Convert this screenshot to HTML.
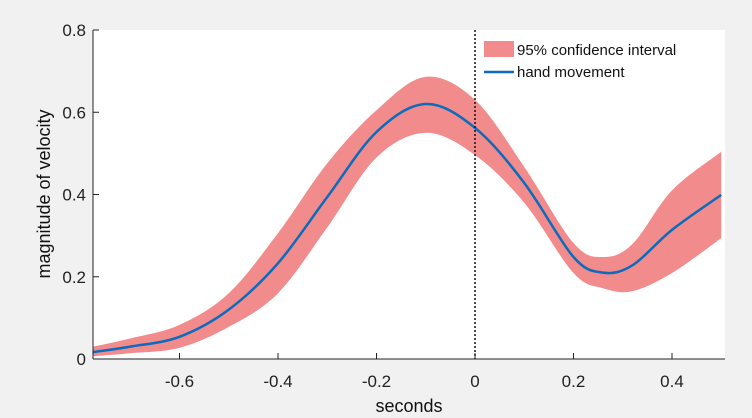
<!DOCTYPE html>
<html><head><meta charset="utf-8"><style>
body{margin:0;background:#f0f1f0;}
svg{display:block;font-family:"Liberation Sans",sans-serif;}
</style></head><body>
<svg id="chart" width="752" height="418">
<rect x="0" y="0" width="752" height="418" fill="#f0f1f0"/>
<rect x="93" y="30" width="632" height="329" fill="#fff"/>
<g id="marks"></g>
<g id="axes"></g>
<g>
<rect x="484" y="41" width="30" height="16" fill="#f28b8b"/>
<text x="517" y="55" font-size="15" fill="#111">95% confidence interval</text>
<line x1="484" y1="72" x2="514" y2="72" stroke="#0b6bbd" stroke-width="2.5"/>
<text x="517" y="77" font-size="15" fill="#111">hand movement</text>
</g>
<text x="409" y="412" font-size="18" text-anchor="middle" fill="#111">seconds</text>
<text transform="translate(50,194) rotate(-90)" font-size="18" text-anchor="middle" fill="#111">magnitude of velocity</text>
</svg>
<script>
const xs = [-0.775,-0.7,-0.6,-0.5,-0.4,-0.3,-0.2,-0.1,0,0.1,0.2,0.26,0.32,0.4,0.5];
const meanVals = [0.017,0.03,0.054,0.12,0.233,0.394,0.552,0.62,0.562,0.428,0.248,0.21,0.228,0.314,0.399];
const upperVals = [0.03,0.05,0.083,0.16,0.306,0.476,0.605,0.686,0.63,0.467,0.282,0.248,0.28,0.41,0.504];
const lowerVals = [0.007,0.014,0.027,0.078,0.16,0.32,0.49,0.55,0.496,0.38,0.209,0.172,0.165,0.209,0.294];
const xTicks = [-0.6,-0.4,-0.2,0,0.2,0.4];
const xTickLabels = ["-0.6","-0.4","-0.2","0","0.2","0.4"];
const yTicks = [0,0.2,0.4,0.6,0.8];
const yTickLabels = ["0","0.2","0.4","0.6","0.8"];

const X = v => 475 + v*492.5;
const Y = v => 359 - v*411.25;
const NS = "http://www.w3.org/2000/svg";
function mk(tag, attrs, parent){const e=document.createElementNS(NS,tag);for(const k in attrs)e.setAttribute(k,attrs[k]);parent.appendChild(e);return e;}
function spline(pts){
  let d = "M"+pts[0][0]+","+pts[0][1];
  for(let i=0;i<pts.length-1;i++){
    const p0=pts[Math.max(i-1,0)],p1=pts[i],p2=pts[i+1],p3=pts[Math.min(i+2,pts.length-1)];
    const c1=[p1[0]+(p2[0]-p0[0])/6,p1[1]+(p2[1]-p0[1])/6];
    const c2=[p2[0]-(p3[0]-p1[0])/6,p2[1]-(p3[1]-p1[1])/6];
    d+=" C"+c1+" "+c2+" "+p2;
  }
  return d;
}
const marks=document.getElementById('marks');
const up = xs.map((x,i)=>[X(x),Y(upperVals[i])]);
const lo = xs.map((x,i)=>[X(x),Y(lowerVals[i])]).reverse();
const loPath = spline(lo).replace(/^M/,"L");
const band = mk('path',{d:spline(up)+" "+loPath+" Z",fill:"#f28b8b"},marks);


const line = mk('path',{d:spline(xs.map((x,i)=>[X(x),Y(meanVals[i])])),fill:"none",stroke:"#0b6bbd","stroke-width":2.5},marks);


const vline = mk('line',{x1:X(0),x2:X(0),y1:30,y2:359,stroke:"#111","stroke-width":1.5,"stroke-dasharray":"2,2"},marks);



const axes=document.getElementById('axes');
const xa = mk('line',{x1:93,x2:725,y1:359,y2:359,stroke:"#222","stroke-width":1},axes);


const ya = mk('line',{x1:93,x2:93,y1:30,y2:359,stroke:"#222","stroke-width":1},axes);


xTicks.forEach((t,i)=>{
  const tk = mk('line',{x1:X(t),x2:X(t),y1:359,y2:353,stroke:"#222"},axes);
  
  
  const tl = mk('text',{x:X(t),y:387,"font-size":17,"text-anchor":"middle",fill:"#222"},axes);
  tl.textContent = xTickLabels[i];
  
  
});
yTicks.forEach((t,i)=>{
  const tk = mk('line',{x1:93,x2:99,y1:Y(t),y2:Y(t),stroke:"#222"},axes);
  
  
  const tl = mk('text',{x:86,y:Y(t)+6,"font-size":17,"text-anchor":"end",fill:"#222"},axes);
  tl.textContent = yTickLabels[i];
  
  
});
</script>
</body></html>
